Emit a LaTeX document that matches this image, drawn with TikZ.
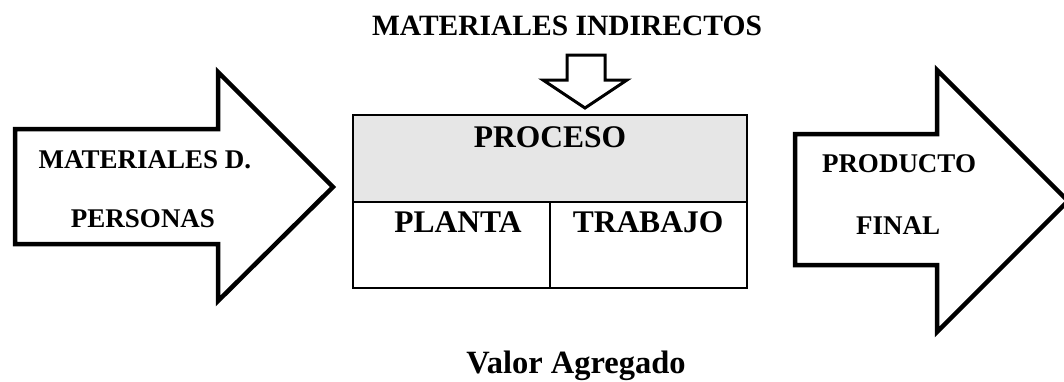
\documentclass[tikz,border=0pt]{standalone}
\usepackage{fontspec}
\setmainfont{Liberation Serif}
\definecolor{procgray}{HTML}{E6E6E6}
\tikzset{
  bigarrow/.style={draw=black, line width=4.5pt, fill=white, line join=miter},
  smallarrow/.style={draw=black, line width=3pt, fill=white, line join=miter},
  boxline/.style={draw=black, line width=2pt},
  lbl/.style={inner sep=0pt, anchor=base, text=black},
  fbig/.style={font=\fontsize{31.5}{36}\selectfont\bfseries},
  fmid/.style={font=\fontsize{29.5}{34}\selectfont\bfseries},
  fva/.style={font=\fontsize{32.5}{37}\selectfont\bfseries},
  farr/.style={font=\fontsize{27}{31}\selectfont\bfseries}
}
\begin{document}
\begin{tikzpicture}[x=1pt,y=-1pt]
\useasboundingbox (0,0) rectangle (1064,381);
% left arrow
\draw[bigarrow] (15,129) -- (218,129) -- (218,72) -- (333,187) -- (218,301) -- (218,244) -- (15,244) -- cycle;
% right arrow
\draw[bigarrow] (795,134) -- (937,134) -- (937,70) -- (1068,201) -- (937,332) -- (937,265) -- (795,265) -- cycle;
% down arrow
\draw[smallarrow] (567,55) -- (605,55) -- (605,80) -- (627,80) -- (585,108) -- (543,80) -- (567,80) -- cycle;
% process box
\fill[procgray] (353,115) rectangle (747,202);
\draw[boxline] (353,115) rectangle (747,288);
\draw[boxline] (353,202) -- (747,202);
\draw[boxline] (550,202) -- (550,288);
% texts
\node[lbl,fmid] (mi) at (567,35) {MATERIALES INDIRECTOS};
\node[lbl,fbig] (proc) at (550,147) {PROCESO};
\node[lbl,fbig] (planta) at (458,232) {PLANTA};
\node[lbl,fbig] (trab) at (648,232) {TRABAJO};
\node[lbl,farr] (md) at (145,168) {MATERIALES D.};
\node[lbl,farr] (pers) at (143,227) {PERSONAS};
\node[lbl,farr] (prod) at (899,172) {PRODUCTO};
\node[lbl,farr] (fin) at (898,234) {FINAL};
\node[lbl,fva] (va) at (576,373) {Valor Agregado};
\end{tikzpicture}
\end{document}
